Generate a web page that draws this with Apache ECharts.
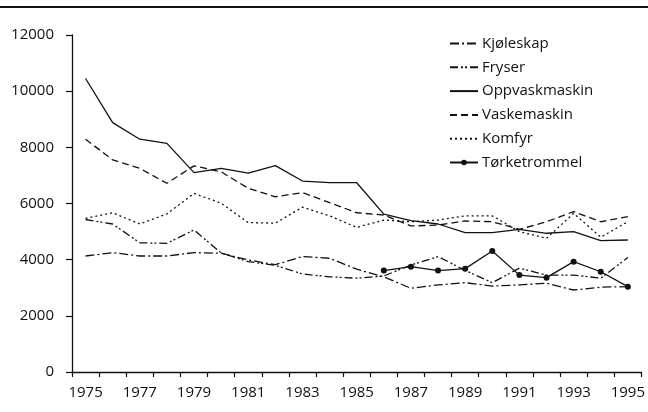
<!DOCTYPE html>
<html>
<head>
<meta charset="utf-8">
<script src="https://cdn.jsdelivr.net/npm/echarts@6/dist/echarts.min.js"></script>
<style>
  html, body { margin: 0; padding: 0; background: #fff; }
  #chart { width: 648px; height: 412px; }
</style>
</head>
<body>
<div id="chart"></div>
<script>
// Years on the category axis
const years = ['1975','1976','1977','1978','1979','1980','1981','1982','1983','1984','1985',
               '1986','1987','1988','1989','1990','1991','1992','1993','1994','1995'];

// Price series per appliance
const kjoleskap = [4130, 4250, 4130, 4130, 4250, 4230, 3990, 3820, 4110, 4050, 3660,
                   3390, 2980, 3100, 3180, 3060, 3100, 3160, 2920, 3020, 3040];
const fryser = [5430, 5270, 4600, 4580, 5060, 4240, 3930, 3800, 3490, 3390, 3340,
                3420, 3810, 4110, 3620, 3180, 3700, 3450, 3450, 3340, 4080];
const oppvaskmaskin = [10450, 8880, 8290, 8140, 7100, 7250, 7080, 7350, 6800, 6740, 6740,
                       5620, 5390, 5270, 4960, 4960, 5080, 4940, 5000, 4680, 4700];
const vaskemaskin = [8290, 7550, 7250, 6720, 7340, 7130, 6540, 6240, 6390, 6030, 5670,
                     5590, 5200, 5230, 5380, 5350, 5080, 5350, 5710, 5350, 5530];
const komfyr = [5470, 5670, 5270, 5630, 6360, 6010, 5320, 5300, 5870, 5560, 5150,
                5410, 5350, 5410, 5560, 5560, 5000, 4760, 5650, 4800, 5350];
const torketrommel = [null, null, null, null, null, null, null, null, null, null, null,
                      3610, 3750, 3610, 3680, 4310, 3450, 3360, 3930, 3570, 3040];

// Y-axis scale
const yMin = 0, yMax = 12000, yStep = 2000;

const ink = '#111';
const font = 'Open Sans';
const clear = 'rgba(0,0,0,0)';

function lineSeries(name, data, dash) {
  return {
    name: name,
    type: 'line',
    data: data,
    symbol: 'none',
    lineStyle: { color: ink, width: 1.3, type: dash },
    itemStyle: { color: ink },
    emphasis: { disabled: true },
    silent: true,
    animation: false
  };
}

// Legend entries without a marker show only the line sample
function plainEntry(name) {
  return { name: name, itemStyle: { color: clear, borderColor: clear, borderWidth: 0 } };
}

const chart = echarts.init(document.getElementById('chart'), null, { renderer: 'canvas' });

chart.setOption({
  animation: false,
  backgroundColor: '#fff',
  textStyle: { fontFamily: font, color: ink },
  graphic: [{
    type: 'line',
    shape: { x1: 0, y1: 7, x2: 648, y2: 7 },
    style: { stroke: ink, lineWidth: 2 },
    silent: true
  }],
  grid: { left: 72, right: 6, top: 35, bottom: 40, containLabel: false },
  legend: {
    orient: 'vertical',
    left: 449,
    top: 36,
    padding: 0,
    itemWidth: 28,
    itemHeight: 7,
    itemGap: 8.8,
    selectedMode: false,
    textStyle: { fontFamily: font, fontSize: 15, color: ink, padding: [0, 0, 0, -1] },
    data: [
      plainEntry('Kjøleskap'),
      plainEntry('Fryser'),
      plainEntry('Oppvaskmaskin'),
      plainEntry('Vaskemaskin'),
      plainEntry('Komfyr'),
      'Tørketrommel'
    ]
  },
  xAxis: {
    type: 'category',
    data: years,
    boundaryGap: true,
    axisLine: { show: true, lineStyle: { color: ink, width: 1.3 } },
    axisTick: { show: true, interval: 0, length: 5, alignWithLabel: false, lineStyle: { color: ink, width: 1.2 } },
    axisLabel: { interval: 1, margin: 13, fontSize: 15, color: ink, fontFamily: font },
    splitLine: { show: false }
  },
  yAxis: {
    type: 'value',
    min: yMin,
    max: yMax,
    interval: yStep,
    axisLine: { show: true, lineStyle: { color: ink, width: 1.3 } },
    axisTick: { show: true, length: 6, lineStyle: { color: ink, width: 1.2 } },
    axisLabel: { margin: 18, fontSize: 15, color: ink, fontFamily: font,
                 formatter: function (v) { return String(v); } },
    splitLine: { show: false }
  },
  series: [
    lineSeries('Kjøleskap', kjoleskap, [9, 3, 2, 3]),
    lineSeries('Fryser', fryser, [8, 3, 2, 2, 2, 3]),
    lineSeries('Oppvaskmaskin', oppvaskmaskin, 'solid'),
    lineSeries('Vaskemaskin', vaskemaskin, [7, 4]),
    lineSeries('Komfyr', komfyr, [2, 3]),
    Object.assign(lineSeries('Tørketrommel', torketrommel, 'solid'), {
      symbol: 'circle',
      symbolSize: 6,
      showSymbol: true,
      connectNulls: false
    })
  ]
});
</script>
</body>
</html>
